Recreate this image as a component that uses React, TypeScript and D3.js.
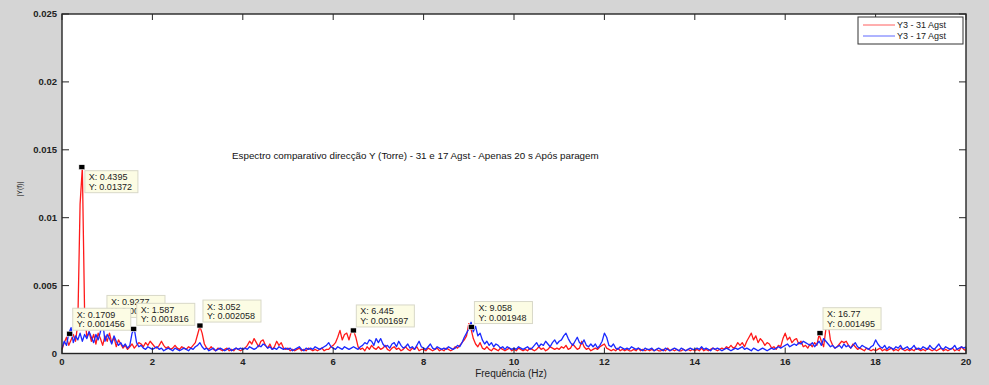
import * as d3 from "d3";
import { useEffect, useRef } from "react";

const W = 989;
const H = 385;

// spectrum sampled every 0.05 Hz from 0 to 20 Hz, |Y(f)| in units of 1e-4
const freqStep = 0.05;
const y3Aug31 = [
  3, 8, 12, 6, 10, 14, 9, 22, 110, 137, 30, 12, 16, 9, 14, 7, 15, 11, 6, 13,
  9, 15, 8, 12, 5, 10, 7, 4, 6, 3, 5, 7, 4, 6, 8, 7, 5, 8, 6, 9,
  7, 5, 4, 6, 9, 6, 4, 5, 3, 4, 6, 4, 3, 5, 4, 3, 5, 4, 6, 8,
  14, 20, 15, 7, 4, 3, 5, 3, 2, 4, 3, 2, 3, 4, 2, 3, 2, 4, 3, 2,
  3, 4, 6, 9, 7, 11, 8, 5, 9, 10, 6, 4, 7, 3, 5, 9, 6, 8, 4, 3,
  4, 2, 3, 2, 3, 4, 2, 3, 2, 4, 3, 2, 3, 2, 3, 4, 2, 3, 3, 5,
  6, 8, 12, 17, 10, 14, 15, 10, 16, 17, 12, 5, 3, 4, 2, 5, 3, 6, 4, 3,
  5, 3, 4, 6, 3, 2, 4, 5, 3, 4, 2, 3, 5, 3, 2, 4, 3, 5, 2, 3,
  3, 2, 4, 3, 2, 3, 4, 2, 3, 2, 4, 3, 2, 3, 5, 4, 6, 8, 10, 13,
  22, 18, 11, 7, 5, 8, 4, 3, 5, 3, 2, 4, 3, 2, 4, 3, 2, 3, 4, 2,
  3, 2, 4, 3, 2, 3, 2, 4, 3, 2, 3, 5, 3, 4, 2, 3, 5, 4, 3, 4,
  3, 5, 4, 6, 3, 4, 7, 5, 3, 4, 9, 5, 3, 4, 2, 3, 4, 3, 5, 6,
  7, 4, 3, 2, 3, 2, 4, 2, 3, 2, 3, 2, 2, 3, 2, 4, 2, 3, 2, 3,
  2, 3, 2, 3, 2, 2, 3, 2, 4, 2, 3, 2, 3, 2, 2, 3, 2, 3, 2, 3,
  2, 3, 2, 4, 2, 3, 2, 3, 4, 3, 2, 3, 4, 3, 5, 4, 6, 4, 5, 8,
  6, 8, 5, 9, 12, 15, 10, 13, 8, 11, 9, 6, 8, 7, 4, 5, 3, 6, 5, 11,
  15, 10, 12, 8, 10, 11, 7, 9, 5, 6, 4, 7, 5, 8, 6, 14, 9, 5, 18, 22,
  10, 6, 4, 5, 7, 9, 8, 9, 6, 4, 7, 5, 3, 4, 3, 2, 4, 3, 2, 3,
  2, 3, 4, 2, 3, 2, 3, 4, 2, 3, 2, 4, 3, 2, 3, 2, 3, 2, 4, 3,
  2, 3, 2, 4, 3, 2, 3, 2, 3, 4, 2, 3, 2, 3, 4, 2, 3, 2, 5, 3,
  2,
];
const y3Aug17 = [
  4, 9, 6, 15, 19, 8, 13, 10, 15, 9, 14, 11, 16, 12, 8, 14, 10, 16, 24, 9,
  14, 11, 7, 13, 9, 6, 8, 5, 7, 4, 6, 15, 18, 8, 5, 6, 4, 3, 5, 4,
  3, 4, 5, 3, 4, 2, 3, 4, 3, 2, 4, 3, 2, 3, 4, 3, 2, 4, 3, 5,
  6, 8, 5, 3, 4, 2, 3, 4, 2, 3, 4, 3, 2, 3, 4, 2, 3, 4, 3, 4,
  3, 4, 3, 5, 4, 3, 4, 6, 5, 7, 6, 4, 5, 3, 4, 3, 5, 4, 3, 4,
  3, 4, 2, 3, 4, 5, 3, 2, 4, 3, 4, 3, 5, 4, 3, 4, 5, 6, 8, 5,
  4, 3, 5, 4, 3, 5, 4, 3, 4, 5, 4, 3, 5, 6, 8, 7, 10, 9, 6, 11,
  8, 11, 7, 5, 6, 4, 7, 8, 5, 9, 6, 4, 5, 7, 4, 5, 3, 6, 9, 5,
  4, 3, 5, 7, 4, 3, 5, 4, 3, 4, 3, 5, 4, 3, 4, 6, 5, 8, 12, 15,
  18, 23, 16, 20, 13, 15, 10, 7, 9, 6, 8, 5, 7, 6, 4, 5, 3, 5, 4, 3,
  4, 3, 5, 4, 3, 4, 5, 3, 4, 6, 8, 5, 7, 6, 9, 7, 5, 8, 10, 7,
  9, 10, 13, 15, 11, 8, 6, 9, 12, 8, 7, 10, 6, 5, 7, 5, 7, 4, 6, 9,
  15, 12, 6, 5, 7, 4, 3, 5, 4, 3, 4, 3, 5, 4, 3, 4, 3, 2, 4, 3,
  3, 4, 2, 3, 4, 3, 2, 4, 3, 2, 3, 4, 3, 2, 4, 3, 2, 3, 4, 3,
  3, 4, 3, 5, 3, 4, 3, 2, 4, 3, 4, 3, 2, 3, 4, 3, 2, 3, 4, 3,
  4, 5, 3, 4, 3, 2, 4, 3, 2, 3, 4, 3, 2, 3, 4, 3, 4, 5, 4, 5,
  6, 7, 5, 6, 7, 6, 8, 7, 9, 8, 7, 6, 8, 5, 7, 9, 6, 11, 9, 7,
  5, 6, 4, 5, 6, 4, 7, 5, 6, 4, 6, 8, 5, 4, 6, 5, 4, 3, 5, 6,
  10, 7, 5, 4, 6, 3, 5, 4, 3, 5, 4, 6, 3, 4, 5, 3, 4, 6, 3, 4,
  3, 5, 4, 3, 6, 4, 3, 5, 7, 4, 3, 5, 4, 3, 4, 6, 3, 4, 5, 4,
  5,
];

const seriesNames = ["Y3 - 31 Agst", "Y3 - 17 Agst"];
const seriesColors = ["#ff1a1a", "#1a2aff"];

const xTicks = [0, 2, 4, 6, 8, 10, 12, 14, 16, 18, 20];
const yTicks = [0, 0.005, 0.01, 0.015, 0.02, 0.025];
const yTickLabels = ["0", "0.005", "0.01", "0.015", "0.02", "0.025"];

// data tips (drawn in this order, later ones on top)
const tipX = ["0.9277", "0.1709", "0.4395", "1.587", "3.052", "6.445", "9.058", "16.77"];
const tipY = ["0.002398", "0.001456", "0.01372", "0.001816", "0.002058", "0.001697", "0.001948", "0.001495"];
const tipBelow = [false, false, true, false, false, false, false, false];

const title = "Espectro comparativo direcção Y (Torre) -  31 e 17 Agst - Apenas 20 s Após paragem";

const FONT = "'Liberation Sans', Arial, sans-serif";

const App = () => {
  const ref = useRef<SVGSVGElement>(null);

  useEffect(() => {
    const svg = d3.select(ref.current);
    svg.selectAll("*").remove();

    const left = 62, right = 966, top = 14, bottom = 353.5;

    const x = d3.scaleLinear().domain([0, 20]).range([left, right]);
    const y = d3.scaleLinear().domain([0, 0.025]).range([bottom, top]);

    svg.append("rect").attr("width", W).attr("height", H).attr("fill", "#d5d5d5");
    svg
      .append("rect")
      .attr("x", left)
      .attr("y", top)
      .attr("width", right - left)
      .attr("height", bottom - top)
      .attr("fill", "#fff");

    svg
      .append("clipPath")
      .attr("id", "plotclip")
      .append("rect")
      .attr("x", left)
      .attr("y", top)
      .attr("width", right - left)
      .attr("height", bottom - top);

    const line = d3
      .line<number>()
      .x((_, i) => x(i * freqStep))
      .y((d) => y(d * 1e-4));

    [y3Aug31, y3Aug17].forEach((s, k) => {
      svg
        .append("path")
        .datum(s)
        .attr("clip-path", "url(#plotclip)")
        .attr("d", line)
        .attr("fill", "none")
        .attr("stroke", seriesColors[k])
        .attr("stroke-width", 1.3)
        .attr("stroke-linejoin", "round");
    });

    // frame and ticks
    const axis = svg.append("g").attr("stroke", "#262626").attr("stroke-width", 1);
    axis
      .append("rect")
      .attr("x", left)
      .attr("y", top)
      .attr("width", right - left)
      .attr("height", bottom - top)
      .attr("fill", "none")
      .attr("stroke-width", 1.4);
    xTicks.forEach((t) => {
      axis.append("line").attr("x1", x(t)).attr("x2", x(t)).attr("y1", bottom).attr("y2", bottom - 6);
      axis.append("line").attr("x1", x(t)).attr("x2", x(t)).attr("y1", top).attr("y2", top + 6);
    });
    yTicks.forEach((t) => {
      axis.append("line").attr("x1", left).attr("x2", left + 7).attr("y1", y(t)).attr("y2", y(t));
      axis.append("line").attr("x1", right).attr("x2", right - 7).attr("y1", y(t)).attr("y2", y(t));
    });

    const labels = svg.append("g").attr("font-family", FONT).attr("fill", "#222");
    labels
      .selectAll(".xt")
      .data(xTicks)
      .join("text")
      .attr("x", (d) => x(d))
      .attr("y", 364.5)
      .attr("text-anchor", "middle")
      .attr("font-size", 9.5)
      .attr("font-weight", "bold")
      .text((d) => String(d));
    labels
      .selectAll(".yt")
      .data(yTicks)
      .join("text")
      .attr("x", 57)
      .attr("y", (d) => y(d) + 3.3)
      .attr("text-anchor", "end")
      .attr("font-size", 9.5)
      .attr("font-weight", "bold")
      .text((_, i) => yTickLabels[i]);

    labels
      .append("text")
      .attr("x", 511)
      .attr("y", 377)
      .attr("text-anchor", "middle")
      .attr("font-size", 10)
      .text("Frequência (Hz)");
    labels
      .append("text")
      .attr("transform", "translate(22,189) rotate(-90)")
      .attr("text-anchor", "middle")
      .attr("font-size", 7)
      .text("|Y(f)|");
    labels
      .append("text")
      .attr("x", 232)
      .attr("y", 158.5)
      .attr("font-size", 9.8)
      .attr("fill", "#111")
      .text(title);

    // data tips
    tipX.forEach((tx, i) => {
      const px = x(+tx);
      const py = y(+tipY[i]);
      const g = svg.append("g").attr("font-family", FONT).attr("font-size", 9).attr("fill", "#222");
      const boxH = 22;
      const bx = px + 3;
      const by = tipBelow[i] ? py + 3.5 : py - 3.5 - boxH;
      const r = g.append("rect").attr("x", bx).attr("y", by).attr("height", boxH).attr("fill", "#fcfce4").attr("stroke", "#d8d8c8");
      const t1 = g.append("text").attr("x", bx + 4).attr("y", by + 9.5).text(`X: ${tx}`);
      const t2 = g.append("text").attr("x", bx + 4).attr("y", by + 19).text(`Y: ${tipY[i]}`);
      const w = Math.max((t1.node() as SVGTextElement).getComputedTextLength(), (t2.node() as SVGTextElement).getComputedTextLength());
      r.attr("width", w + 10);
      g.append("rect").attr("x", px - 3).attr("y", py - 2.5).attr("width", 6).attr("height", 5).attr("fill", "#000").attr("stroke", "#fff").attr("stroke-width", 0.6);
    });

    // legend
    const lg = svg.append("g").attr("font-family", FONT).attr("font-size", 9);
    lg.append("rect").attr("x", 858).attr("y", 17).attr("width", 105).attr("height", 27).attr("fill", "#fff").attr("stroke", "#333");
    seriesNames.forEach((n, i) => {
      const ly = 25 + i * 11;
      lg.append("line").attr("x1", 863).attr("x2", 895).attr("y1", ly).attr("y2", ly).attr("stroke", seriesColors[i]).attr("stroke-opacity", 0.7);
      lg.append("text").attr("x", 897).attr("y", ly + 3.3).attr("fill", "#222").text(n);
    });
  });

  return (
    <div style={{ position: "absolute", left: 0, top: 0 }}>
      <svg ref={ref} width={W} height={H} style={{ display: "block" }} />
    </div>
  );
};

export default App;
